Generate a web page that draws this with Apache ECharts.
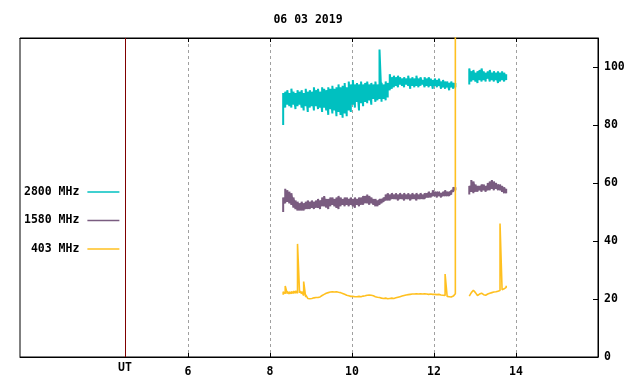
<!DOCTYPE html>
<html>
<head>
<meta charset="utf-8">
<script src="https://cdn.jsdelivr.net/npm/echarts@6/dist/echarts.min.js"></script>
<style>html,body{margin:0;padding:0;background:#fff}#c{width:640px;height:384px}</style>
</head>
<body>
<div id="c"></div>
<script>
// ---- data (hours UT) ----
const titleText = '06 03 2019';
const xTicks = [6, 8, 10, 12, 14];
const yTicks = [0, 20, 40, 60, 80, 100];
const utPosition = 4.46;
const seriesNames = ['2800 MHz', '1580 MHz', ' 403 MHz'];
const step = 0.05;
const seg1Start = 8.32;
const seg2Start = 12.86;

// 2800 MHz
const c2800Low1 = [80,86,87,86.5,86,87,85.5,86.5,87,86,85,86.5,84.5,86,86.5,85,86.5,85.5,86,84.5,86,85,83.5,85.5,84,85,83,84.5,83.5,82.5,84,83,85,84.5,87,86,88,85,87.5,86.5,88,87.5,88.5,87,89,88,88.5,89,88,89,88.5,89.5,92,92.5,93,93.5,93,94,93.5,93,94,93.5,92.5,93.5,93,93.5,93,93.5,94,93,93.5,93,93.5,92.5,93.5,93,93.5,92.5,93,92.5,93,92,93,92.5,93];
const c2800High1 = [91,91.5,92,91,92.5,91.5,91,92,91.5,92,91,92.5,91.5,92,91.5,93,92,92.5,91.5,93,92.5,92,93,92.5,93.5,92.5,93,94,93,93.5,94.5,93,95,94,95.5,94,94.5,94,95,94,94.5,95,94,94.5,94,95,94,106,94.5,94,95,94.5,97.5,96.5,97,96.5,97,96.5,96,96.5,96,97,96,96.5,96,97,96,96.5,95.5,96.5,96,96.5,96,95.5,96,95.5,96,95,95.5,95,95,94.5,95,94.5,94.5];
const c2800Low2 = [94,95,95.5,95,94.5,95.5,95,95.5,95,96,95,95.5,95,95.5,94.5,95,95.5,95,95.5];
const c2800High2 = [99.5,98.5,99,98,98.5,99,99.5,98.5,98,98.5,99,98,98.5,98,98.5,98,98.5,98,97.5];

// 1580 MHz
const c1580Low1 = [50,53,53.5,53,52.5,51.5,51,50.5,50.5,50.5,50.5,51,51,51,51.5,51,51.5,51.5,51,52,52,51.5,51,52,52.5,52,51.5,51,52,52.5,52,52.5,52,52.5,52,51.5,52.5,52,52.5,52.5,53,53,52.5,53,52.5,52,52,52.5,53,53.5,54,54,54,54.5,54.5,54.5,54,54.5,54.5,54,54.5,54.5,54,54.5,54.5,54,54.5,54.5,54.5,54.5,55,55,55,55.5,55.5,55,55.5,55,55.5,55.5,55.5,55.5,56,57,57.5];
const c1580High1 = [55,58,57.5,57,56.5,55,54,53.5,53,53.5,53,53.5,54,53.5,54,53.5,54,54.5,54,55,55.5,54.5,54.5,55,55,54.5,55,55.5,55,54.5,55,55,54.5,55,54.5,55,54.5,55,55,55.5,55.5,56,55.5,55,54.5,54.5,54,54.5,54.5,55,56,56.5,56,56.5,56,56.5,56,56.5,56,56.5,56,56.5,56,56.5,56,56.5,56,56.5,56,56.5,56.5,57,56.5,57.5,57,57,57,56.5,57,57.5,57,57,57.5,58.5,58.5];
const c1580Low2 = [56,57,56.5,57,57,57.5,57,57.5,57,57.5,57.5,58,57.5,58,57.5,57.5,57,56.5,56.5];
const c1580High2 = [59,61,60.5,59.5,59,59,59.5,59.5,59,60,60.5,61,60.5,60,59.5,59.5,59,58.5,58];

// 403 MHz
const c403Low1 = [21.5,21.8,21.8,21.7,21.8,21.9,22,22,22.1,21.8,21.2,20.6,20.2,20.1,20.2,20.4,20.5,20.5,20.7,21.2,21.6,22,22.2,22.4,22.5,22.4,22.5,22.3,22.2,21.9,21.6,21.3,21.1,20.9,20.9,20.8,20.8,20.9,20.8,21,21.1,21.3,21.4,21.3,21.1,20.8,20.6,20.5,20.3,20.2,20.3,20.1,20.2,20.3,20.2,20.4,20.6,20.8,21,21.2,21.4,21.5,21.6,21.7,21.7,21.8,21.7,21.8,21.7,21.8,21.7,21.6,21.7,21.6,21.6,21.5,21.6,21.4,21.3,21.2,20.9,20.8,20.7,21,21.8];
const c403High1 = [22.5,24.5,22.6,22.5,22.6,22.7,22.8,39,22.9,22.6,26,21.4,20.8,20.7,20.8,21,21.1,21.1,21.3,21.8,22.2,22.6,22.8,23,23.1,23,23.1,22.9,22.8,22.5,22.2,21.9,21.7,21.5,21.5,21.4,21.4,21.5,21.4,21.6,21.7,21.9,22,21.9,21.7,21.4,21.2,21.1,20.9,20.8,20.9,20.7,20.8,20.9,20.8,21,21.2,21.4,21.6,21.8,22,22.1,22.2,22.3,22.3,22.4,22.3,22.4,22.3,22.4,22.3,22.2,22.3,22.2,22.2,22.1,22.2,22,21.9,28.6,21.5,21.4,21.3,21.6,200];
const c403Low2 = [21,22.2,23,22.2,21.2,21.7,22,21.5,21.3,21.7,22,22.2,22.4,22.5,22.7,22.9,23.2,23.5,24];
const c403High2 = [21.6,22.8,23.6,22.8,21.8,22.3,22.6,22.1,21.9,22.3,22.6,22.8,23,23.1,23.3,46,23.8,24.1,24.6];

const colors = ['#00c0c0', '#7a5c80', '#ffc020'];

// ---- build ----
function seg(start, lows, highs) {
  const out = [];
  for (let i = 0; i < lows.length; i++) {
    const x = +(start + i * step).toFixed(3);
    out.push([x, lows[i]]);
    out.push([x, highs[i]]);
  }
  return out;
}
function build(l1, h1, l2, h2) {
  return seg(seg1Start, l1, h1).concat([[12.7, null]], seg(seg2Start, l2, h2));
}
const data2800 = build(c2800Low1, c2800High1, c2800Low2, c2800High2);
const data1580 = build(c1580Low1, c1580High1, c1580Low2, c1580High2);
const data403 = build(c403Low1, c403High1, c403Low2, c403High2);

const font = 'DejaVu Sans Mono';
const chart = echarts.init(document.getElementById('c'), null, {renderer: 'canvas'});
const xCommon = {
  type: 'value', min: 1.9, max: 16,
  axisLine: {show: true, lineStyle: {color: '#000', width: 1}},
  axisTick: {show: true, inside: true, length: 4, customValues: xTicks, lineStyle: {color: '#000'}},
  splitLine: {show: false}
};
chart.setOption({
  animation: false,
  backgroundColor: '#fff',
  title: {
    text: titleText, left: 303, top: 9, textAlign: 'center',
    textStyle: {fontFamily: font, fontWeight: 'bold', fontSize: 11.5, color: '#000'}
  },
  grid: {left: 20, right: 42, top: 38, bottom: 27, show: true, borderColor: '#000', borderWidth: 1, backgroundColor: 'transparent'},
  legend: {
    orient: 'vertical', left: 24, top: 186, align: 'right', padding: 0,
    icon: 'rect', itemWidth: 32, itemHeight: 1.5, itemGap: 16.5,
    selectedMode: false,
    data: seriesNames,
    textStyle: {fontFamily: font, fontWeight: 'bold', fontSize: 11.5, color: '#000', padding: [0, 3, 0, 0]}
  },
  xAxis: [
    Object.assign({}, xCommon, {
      position: 'bottom',
      axisLabel: {show: true, customValues: xTicks, margin: 9, fontFamily: font, fontWeight: 'bold', fontSize: 11.5, color: '#000'},
      splitLine: {show: true, lineStyle: {color: '#a0a0a0', type: [3, 3], width: 1}}
    }),
    Object.assign({}, xCommon, {position: 'top', axisLabel: {show: false}})
  ],
  yAxis: {
    type: 'value', min: 0, max: 110, position: 'right',
    axisLine: {show: true, lineStyle: {color: '#000'}},
    axisTick: {show: true, inside: true, length: 5, customValues: yTicks, lineStyle: {color: '#000'}},
    axisLabel: {show: true, customValues: yTicks, margin: 6, fontFamily: font, fontWeight: 'bold', fontSize: 11.5, color: '#000'},
    splitLine: {show: false}
  },
  series: [
    {name: seriesNames[0], type: 'line', data: data2800, symbol: 'none', color: colors[0], lineStyle: {width: 2, color: colors[0]}, connectNulls: false, clip: true,
     markLine: {silent: true, symbol: 'none', animation: false,
       lineStyle: {color: '#800000', type: 'solid', width: 1},
       label: {show: true, position: 'start', formatter: 'UT', distance: 5, fontFamily: font, fontWeight: 'bold', fontSize: 11.5, color: '#000'},
       data: [{xAxis: utPosition}]}},
    {name: seriesNames[1], type: 'line', data: data1580, symbol: 'none', color: colors[1], lineStyle: {width: 2, color: colors[1]}, connectNulls: false, clip: true},
    {name: seriesNames[2], type: 'line', data: data403, symbol: 'none', color: colors[2], lineStyle: {width: 1.6, color: colors[2]}, connectNulls: false, clip: true}
  ]
});
</script>
</body>
</html>
